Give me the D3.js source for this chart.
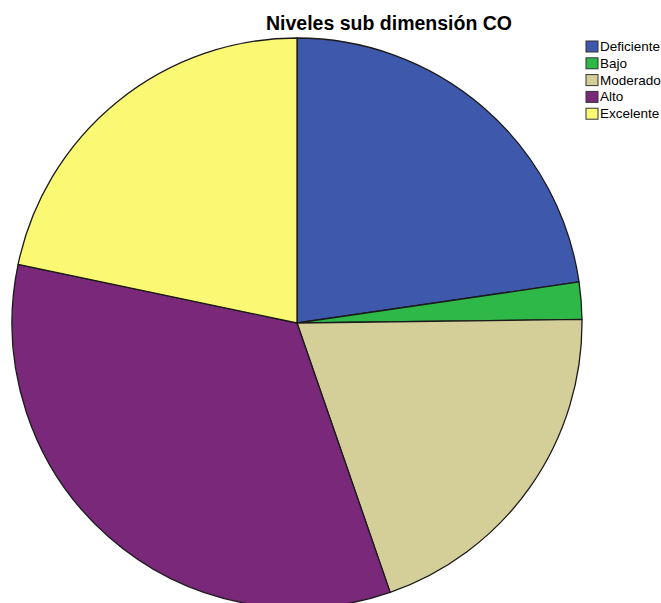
<!DOCTYPE html>
<html>
<head>
<meta charset="utf-8">
<script src="https://d3js.org/d3.v7.min.js"></script>
<style>
  body { margin: 0; background: #fff; }
  svg { display: block; font-family: "Liberation Sans", Arial, sans-serif; }
</style>
</head>
<body>
<svg width="661" height="603"></svg>
<script>
// category labels and their share (percent)
var categories = ["Deficiente", "Bajo", "Moderado", "Alto", "Excelente"],
    values = [22.7, 2.1, 19.9, 33.6, 21.7],
    colors = ["#3e58ac", "#2eb848", "#d4cf98", "#7a287a", "#fbf873"];

var svg = d3.select("svg"),
    cx = 297,
    cy = 323,
    radius = 285;

var pie = d3.pie().sort(null).value(function(d) { return d; }),
    arc = d3.arc().innerRadius(0).outerRadius(radius);

var color = d3.scaleOrdinal().domain(categories).range(colors);

svg.append("g")
    .attr("transform", "translate(" + cx + "," + cy + ")")
  .selectAll("path")
    .data(pie(values))
  .enter().append("path")
    .attr("d", arc)
    .attr("fill", function(d, i) { return color(categories[i]); })
    .attr("stroke", "#1a1a1a")
    .attr("stroke-width", 1.3)
    .attr("stroke-linejoin", "round");

svg.append("text")
    .attr("x", 389)
    .attr("y", 30)
    .attr("text-anchor", "middle")
    .style("font-size", "19.5px")
    .style("font-weight", "bold")
    .attr("fill", "#000")
    .text("Niveles sub dimensión CO");

// legend
var legend = svg.append("g")
    .attr("transform", "translate(586,41)")
  .selectAll("g")
    .data(categories)
  .enter().append("g")
    .attr("transform", function(d, i) { return "translate(0," + (i * 16.8) + ")"; });

legend.append("rect")
    .attr("width", 12)
    .attr("height", 11)
    .attr("fill", function(d) { return color(d); })
    .attr("stroke", "#333")
    .attr("stroke-width", 1);

legend.append("text")
    .attr("x", 14)
    .attr("y", 10)
    .style("font-size", "13.5px")
    .attr("fill", "#000")
    .text(function(d) { return d; });
</script>
</body>
</html>
